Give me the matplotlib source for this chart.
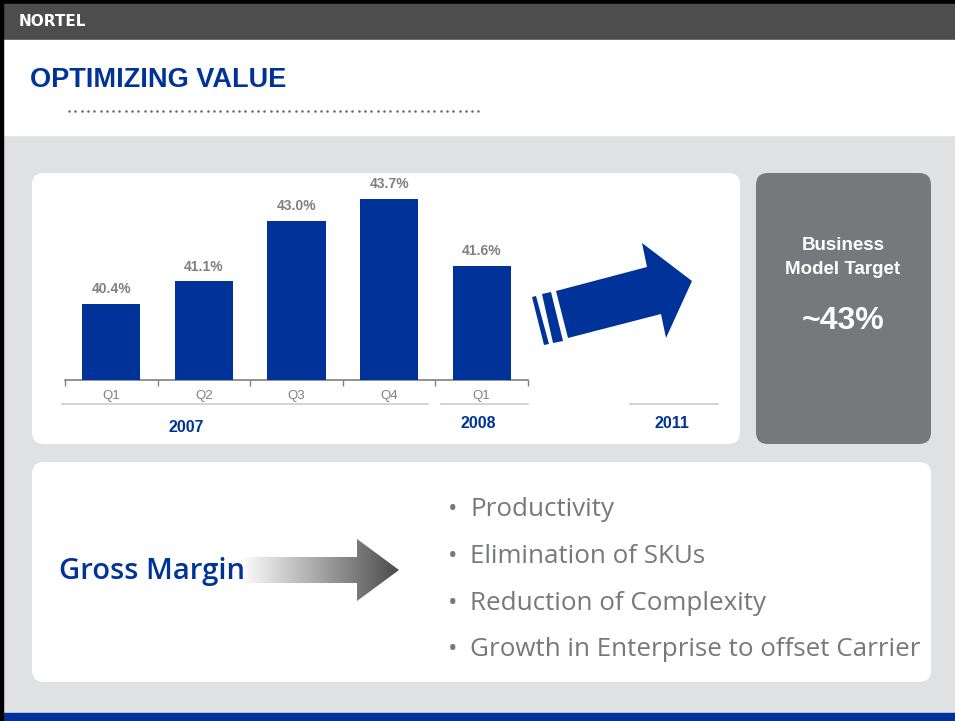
import matplotlib
matplotlib.use("Agg")
import matplotlib.pyplot as plt
import numpy as np
from matplotlib.patches import FancyBboxPatch, Polygon, Rectangle
from matplotlib.colors import LinearSegmentedColormap
from matplotlib.transforms import blended_transform_factory

# data
quarters = ["Q1", "Q2", "Q3", "Q4", "Q1"]
margins = [40.4, 41.1, 43.0, 43.7, 41.6]
years = ["2007", "2008", "2011"]
target_label = "~43%"
bullets = [
    "Productivity",
    "Elimination of SKUs",
    "Reduction of Complexity",
    "Growth in Enterprise to offset Carrier",
]

BLUE = "#003399"
GRAY_TXT = "#808080"
BG_GRAY = "#e0e1e3"
W, H = 955, 721

plt.rcParams["font.family"] = ["Liberation Sans", "DejaVu Sans"]

fig = plt.figure(figsize=(W / 100, H / 100), dpi=100)

# background canvas in pixel coordinates
bg = fig.add_axes([0, 0, 1, 1])
bg.set_xlim(0, W)
bg.set_ylim(H, 0)
bg.axis("off")

bg.add_patch(Rectangle((0, 0), W, H, color=BG_GRAY, zorder=0))
bg.add_patch(Rectangle((0, 0), W, 4, color="black", zorder=1))
bg.add_patch(Rectangle((0, 4), W, 36, color="#4d4d4d", zorder=1))
bg.add_patch(Rectangle((0, 40), W, 95, color="white", zorder=1))
bg.add_patch(Rectangle((0, 713), W, 8, color=BLUE, zorder=1))
bg.add_patch(Rectangle((0, 0), 3, H, color="black", zorder=2))

bg.text(19, 21, "NORTEL", color="white", fontsize=11, fontweight="bold",
        va="center", ha="left", zorder=3, family=["DejaVu Sans"])
bg.text(30, 80, "OPTIMIZING VALUE", color=BLUE, fontsize=19.5, fontweight="bold",
        va="center", ha="left", zorder=3)
dots_x = np.arange(69, 481, 6.3)
bg.plot(dots_x, np.full_like(dots_x, 111), ls="none", marker="o", ms=1.8,
        mfc="#666666", mec="none", zorder=3)

# panels
bg.add_patch(FancyBboxPatch((32, 173), 708, 271, boxstyle="round,pad=0,rounding_size=12",
                            fc="white", ec="none", zorder=2))
bg.add_patch(FancyBboxPatch((756, 173), 175, 271, boxstyle="round,pad=0,rounding_size=12",
                            fc="#76787b", ec="none", zorder=2))
bg.add_patch(FancyBboxPatch((32, 462), 899, 220, boxstyle="round,pad=0,rounding_size=12",
                            fc="white", ec="none", zorder=2))

# right target box
bg.text(843, 246, "Business", color="white", fontsize=13.5, fontweight="bold",
        ha="center", va="center", zorder=3)
bg.text(843, 270, "Model Target", color="white", fontsize=13.5, fontweight="bold",
        ha="center", va="center", zorder=3)
bg.text(843, 321, target_label, color="white", fontsize=23, fontweight="bold",
        ha="center", va="center", zorder=3)

# blue arrow
bg.add_patch(Polygon([(556, 291), (647, 267), (642, 243), (692, 281),
                      (666, 338), (661, 314), (568, 338)],
                     closed=True, fc=BLUE, ec="none", zorder=3))
bg.add_patch(Polygon([(532, 297), (536, 296), (549, 344), (544, 345)],
                     closed=True, fc=BLUE, ec="none", zorder=3))
bg.add_patch(Polygon([(542, 294), (551, 292), (563, 341), (553, 343)],
                     closed=True, fc=BLUE, ec="none", zorder=3))

# bottom panel
bg.text(59, 568, "Gross Margin", color=BLUE, fontsize=21, fontweight="semibold",
        ha="left", va="center_baseline", zorder=5, family=["Open Sans", "DejaVu Sans"])
arrow = Polygon([(240, 557), (357, 557), (357, 539), (399, 570),
                 (357, 601), (357, 583), (240, 583)], closed=True,
                fc="none", ec="none")
bg.add_patch(arrow)
grad = np.linspace(0, 1, 256).reshape(1, -1)
cmap = LinearSegmentedColormap.from_list("g", ["#ffffff", "#4a4a4a"])
im = bg.imshow(grad, cmap=cmap, extent=(240, 399, 601, 539), aspect="auto",
               zorder=4, interpolation="bilinear")
im.set_clip_path(arrow)
bg.set_xlim(0, W)
bg.set_ylim(H, 0)

for i, b in enumerate(bullets):
    y = 507 + i * 46.5
    bg.text(448, y, "\u2022", color="#77787b", fontsize=18, ha="left",
            va="center_baseline", zorder=3, family=["Open Sans", "DejaVu Sans"])
    bg.text(470, y, b, color="#77787b", fontsize=18.7, ha="left",
            va="center_baseline", zorder=3, family=["Open Sans", "DejaVu Sans"])

# bar chart
x0, x1, base_y, top_y = 65, 528, 380, 180
px_per_pct = 31.8
ymin = 38.0
ax = fig.add_axes([x0 / W, (H - base_y) / H, (x1 - x0) / W, (base_y - top_y) / H])
ax.set_facecolor("none")
ax.set_xlim(-0.5, len(quarters) - 0.5)
ax.set_ylim(ymin, ymin + (base_y - top_y) / px_per_pct)
xs = np.arange(len(quarters))
ax.bar(xs, margins, width=0.63, color=BLUE, zorder=3)
for xv, v in zip(xs, margins):
    ax.annotate(f"{v:.1f}%", (xv, v), xytext=(0, 5.5), textcoords="offset points",
                ha="center", va="bottom", fontsize=10, fontweight="bold",
                color=GRAY_TXT, annotation_clip=False)

for s in ["top", "right", "left"]:
    ax.spines[s].set_visible(False)
ax.spines["bottom"].set_color(GRAY_TXT)
ax.spines["bottom"].set_linewidth(1.2)
ax.set_yticks([])
ax.set_xticks(xs)
ax.set_xticklabels(quarters, fontsize=9.5, color=GRAY_TXT)
ax.tick_params(axis="x", which="major", length=0, pad=7.5)
ax.set_xticks(np.arange(-0.5, len(quarters)), minor=True)
ax.tick_params(axis="x", which="minor", length=4, color=GRAY_TXT, width=1)

# year groups below axis
tr = blended_transform_factory(ax.transData, bg.transData)
unit = (x1 - x0) / len(quarters)
def to_x(px):
    return (px - x0) / unit - 0.5
groups = [(62, 428, 186, 427), (441, 528, 478, 424), (630, 718, 672, 424)]
for (a, b, c, yy), yr in zip(groups, years):
    ax.plot([to_x(a), to_x(b)], [404, 404], color="#cccccc", lw=1.2,
            transform=tr, clip_on=False)
    ax.text(to_x(c), yy, yr, color=BLUE, fontsize=11.5, fontweight="bold",
            ha="center", va="center", transform=tr)

fig.savefig("out.png", dpi=100)
